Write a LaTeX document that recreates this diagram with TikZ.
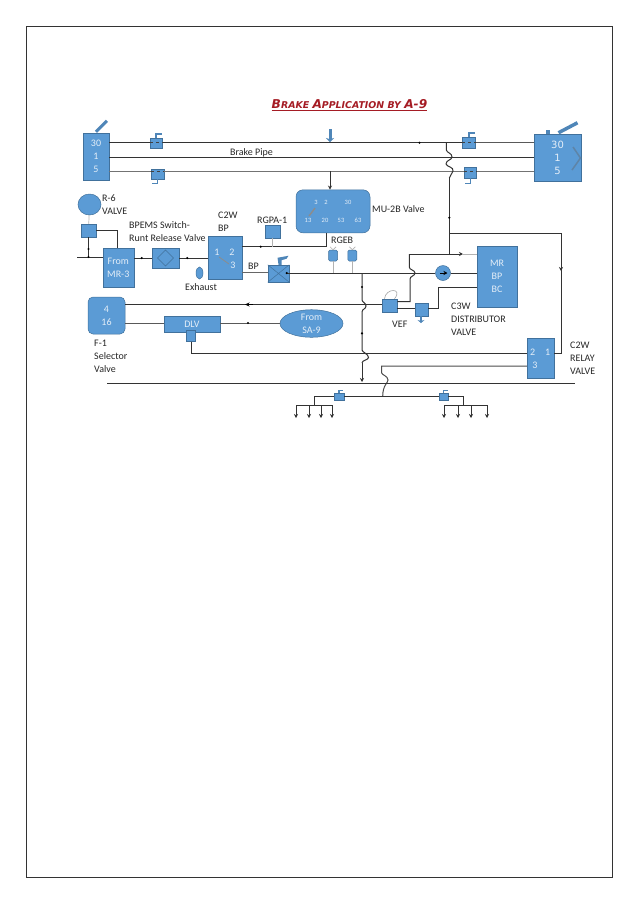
\documentclass[tikz,border=0pt]{standalone}
\usepackage{fontspec}
\setmainfont{Carlito}
\usetikzlibrary{positioning,calc,arrows.meta,shapes.geometric}
\newfontfamily\titlefont{DejaVu Sans}
\definecolor{brakeBlueFill}{HTML}{5B9BD5}
\definecolor{brakeBlueLine}{HTML}{41719C}
\definecolor{brakeHandle}{HTML}{4F86B8}
\definecolor{brakeLine}{HTML}{333333}
\definecolor{brakeRed}{HTML}{A51C24}
\definecolor{brakeText}{HTML}{E4EEF8}
\tikzset{
  valve box/.style={draw=brakeBlueLine, fill=brakeBlueFill, line width=0.5pt,
    inner sep=0pt, font=\fontsize{10}{13}\selectfont, text=brakeText, align=center},
  pipe/.style={line width=1pt, color=brakeLine},
  pipe arrow/.style={pipe, -{Stealth[length=4pt,width=4pt]}},
  stub/.style={line width=0.7pt, color=black!30},
  handle/.style={line width=1.5pt, color=brakeHandle},
  tag/.style={font=\fontsize{10}{13}\selectfont, text=black!85, align=left, inner sep=0pt},
}
\newcommand{\mk}[1]{\fill[black] (#1) circle (1.2pt);}
\begin{document}
\begin{tikzpicture}[x=1pt,y=-1pt]
\useasboundingbox (0,0) rectangle (638,903);
\draw[line width=0.7pt, black!80] (26,26) rectangle (612,877);

% --- TITLE ---
\node[font=\titlefont\bfseries\itshape, text=brakeRed, inner sep=0.5pt] (title) at (349.5,105)
  {\underline{\fontsize{12.2}{14}\selectfont B\fontsize{9.4}{11}\selectfont RAKE \fontsize{12.2}{14}\selectfont A\fontsize{9.4}{11}\selectfont PPLICATION BY \fontsize{12.2}{14}\selectfont A-9}};

% --- BOXES ---
\node[valve box, minimum width=26, minimum height=47] (blockL) at (96,156.5) {30\\1\\5};
\node[valve box, minimum width=47, minimum height=47, font=\titlefont\fontsize{10}{13}\selectfont] (blockR) at (557.5,157.5) {30\\1\\5};
\node[valve box, ellipse, minimum width=23, minimum height=21] (rsix) at (89.5,204.5) {};
\node[valve box, minimum width=15, minimum height=13] (rsixbox) at (88.5,230.5) {};
\node[valve box, minimum width=31, minimum height=39] (frommr) at (118.3,267.5) {From\\MR-3};
\node[valve box, minimum width=27, minimum height=20] (bpems) at (165.5,258) {};
\node[valve box, minimum width=34, minimum height=43] (ctwbp) at (225,257.5) {};
\node[valve box, minimum width=15, minimum height=13] (rgpa) at (272.5,231.5) {};
\node[valve box, rounded corners=7pt, minimum width=74, minimum height=43] (mutwo) at (333,211.3) {};
\node[valve box, rounded corners=1.5pt, minimum width=9, minimum height=11] (rgebl) at (333,255.5) {};
\node[valve box, rounded corners=1.5pt, minimum width=9, minimum height=11] (rgebr) at (352.3,255.5) {};
\node[valve box, minimum width=21, minimum height=17] (bpvalve) at (278.5,273.5) {};
\node[valve box, ellipse, minimum width=7, minimum height=12] (exhaust) at (199.5,273) {};
\node[valve box, rounded corners=5pt, minimum width=37, minimum height=37] (fone) at (106.5,315.5) {4\\16};
\node[valve box, minimum width=56, minimum height=16] (dlv) at (192,324) {DLV};
\node[valve box, minimum width=9, minimum height=11] (dlvtail) at (191,336) {};
\node[valve box, ellipse, minimum width=63, minimum height=27] (sanine) at (311.5,323.5) {From\\SA-9};
\node[valve box, minimum width=15, minimum height=13] (vef) at (389.5,305.5) {};
\node[valve box, minimum width=13, minimum height=13] (vefout) at (421.5,309.5) {};
\node[valve box, circle, minimum size=15] (check) at (443,273) {};
\node[valve box, minimum width=40, minimum height=61] (cthree) at (497,276.5) {MR\\BP\\BC};
\node[valve box, minimum width=27, minimum height=40] (relay) at (540.5,358) {};

% --- SMALL COCKS ---
\foreach \nm/\cx/\cy/\cw/\ch in {cockA/156/143/12/10, cockB/157.5/174/13/10, cockC/469/142.5/13/11, cockD/470.5/172.5/12/11, cockE/339/396.5/10/7, cockF/443.5/396.5/9/7}
  \node[valve box, minimum width=\cw, minimum height=\ch] (\nm) at (\cx,\cy) {};
\draw[handle] (cockA.north) -- ++(0,-4) -- ++(6,0);
\draw[handle] (cockB.south) -- ++(0,4) -- ++(-6,0);
\draw[handle] (cockC.north) -- ++(0,-4) -- ++(6,0);
\draw[handle] (cockD.south) -- ++(0,5) -- ++(-6,0);
\draw[handle, line width=1.1pt] (cockE.north) -- ++(0,-2.5) -- ++(4,0);
\draw[handle, line width=1.1pt] (cockF.north) -- ++(0,-2.5) -- ++(4,0);

% --- HANDLES ---
\draw[brakeHandle, line width=3pt] (blockL.north) ++(0,-1) -- ++(11,-11);
\draw[brakeHandle, line width=3.5pt] (blockR.north) ++(1,-1) -- ++(19,-10);
\draw[brakeHandle, line width=4pt] (blockR.north) ++(-10,0) -- ++(0,-4);
\draw[brakeHandle!70!gray, line width=1.5pt] (573,147) -- (580.5,158) -- (572,170);
\fill[brakeHandle] (bpvalve.north) -- ++(-1,-7) -- ++(11,-2) -- ++(-2,3) -- ++(-5,1.5) -- ++(0,4.5) -- cycle;
\draw[brakeBlueLine, line width=0.5pt] (bpvalve.north west) -- (bpvalve.south east) (bpvalve.north east) -- (bpvalve.south west);
\draw[brakeBlueLine, line width=0.6pt] (bpems.center) ++(-8,0) -- ++(8,-8) -- ++(8,8) -- ++(-8,8) -- cycle;
\draw[black!35, line width=0.6pt] (vef.north) ++(-5,0) .. controls ++(1,-11) and ++(9,-11) .. ++(10,0);

% --- PORT TEXTS ---
\begin{scope}[every node/.style={text=brakeText, inner sep=0pt, font=\fontsize{6.5}{8}\selectfont}]
  \node (mua) at (316,202) {3};
  \node (mub) at (326,202) {2};
  \node (muc) at (348,202) {30};
  \node (mud) at (308,220.7) {13};
  \node (mue) at (325,220.7) {20};
  \node (muf) at (341,220.7) {53};
  \node (mug) at (358,220.7) {63};
\end{scope}
\begin{scope}[every node/.style={text=brakeText, inner sep=0pt, font=\fontsize{10}{13}\selectfont}]
  \node (ctwa) at (217,252) {1};
  \node (ctwb) at (232,252) {2};
  \node (ctwc) at (233,265) {3};
  \node (rela) at (532.7,352) {2};
  \node (relb) at (547.7,352) {1};
  \node (relc) at (535,365) {3};
\end{scope}
\draw[black!45, line width=0.8pt] (219,257) -- (229,264);
\draw[black!45, line width=1.4pt] (309,216) -- (315,208);

% --- BRAKE PIPES ---
\draw[pipe] (blockL.east |- 0,142.7) -- (cockA.west |- 0,142.7);
\draw[pipe] (cockA.east |- 0,142.7) -- (cockC.west |- 0,142.7);
\draw[pipe, black!65] (cockC.east |- 0,142.7) -- (blockR.west |- 0,142.7);
\draw[pipe] (blockL.east |- 0,157) -- (blockR.west |- 0,157);
\draw[pipe, black!55] (blockL.east |- 0,171) -- (cockB.west |- 0,171);
\draw[pipe, black!55] (cockB.east |- 0,171) -- (cockD.west |- 0,171);
\draw[pipe, black!55] (cockD.east |- 0,171) -- (blockR.west |- 0,171);
\foreach \nm/\ly in {cockA/142.7, cockB/171, cockC/142.7, cockD/171}
  \draw[black!75, line width=0.5pt, dashed] (\nm.west |- 0,\ly) -- (\nm.east |- 0,\ly);
\draw[brakeHandle, line width=3pt, -{Stealth[length=4pt,width=8pt]}] (330,129) -- (330,142);
\draw[pipe, line width=1.4pt] (398,142.7) -- (418,142.7);
\mk{419.5,142.7}
\draw[pipe arrow] (330,171) -- (mutwo.north -| 330,0);

% --- MAIN RISER ---
\coordinate (riserT) at (446.3,142.7);
\coordinate (riserM) at (449.3,178);
\draw[pipe] (riserT) -- (446.3,150) .. controls (447,153) and (452,153) .. (452,157)
  .. controls (452,160) and (446,160) .. (446,164)
  .. controls (447,167) and (454,167) .. (453,171) -- (riserM);
\coordinate (riserB) at (449.3,254);
\coordinate (riserS) at (449.3,233);
\draw[pipe] (riserM) -- (riserB);
\mk{449.3,217.7}
\draw[pipe] (riserS) -- (561,233) |- (relay.east |- 0,353);
\draw[pipe arrow] (561,233) -- (561,271);
\draw[pipe] (409.3,254) -- (riserB);
\draw[pipe arrow] (riserB) -- (463,254);
\draw[stub] (463,254) -- (cthree.west |- 0,254);
\draw[pipe] (409.3,254) -- (409.3,267) .. controls (409.3,270) and (415,270) .. (415,273)
  .. controls (415,276) and (410,276) .. (410,279) -- (410,301.7) -- (vef.east |- 0,301.7);

% --- LEFT SIDE LINES ---
\coordinate (feedL) at (77,257);
\draw[pipe] (feedL) -- (frommr.west |- feedL);
\draw[pipe] (rsixbox.south) -- (rsixbox.south |- feedL);
\mk{rsixbox.south |- feedL}
\mk{88.5,249}
\draw[stub] (rsix) -- (rsixbox);
\draw[pipe] (rsixbox.east) -| (frommr.north -| 117.7,0);
\draw[pipe] (frommr.east |- bpems) -- (bpems);
\mk{141.7,258}
\draw[pipe] (bpems) -- (ctwbp.west |- bpems);
\mk{187.3,258}
\draw[pipe] (ctwbp.east |- 0,246.7) -- (326.7,246.7) -- (mutwo.south -| 326.7,0);
\mk{260.7,246.7}
\draw[stub] (rgpa.south) -- (rgpa.south |- 0,246.7);
\draw[pipe, black!60] (ctwbp.east |- 0,272) -- (bpvalve.west |- 0,272);
\draw[stub] (rgebl) -- (rgebl |- 0,273);
\draw[stub] (rgebr) -- (rgebr |- 0,273);
\draw[stub] (rgebl.north) -- ++(-3,-3) (rgebl.north) -- ++(3,-3);
\draw[stub] (rgebr.north) -- ++(-3,-3) (rgebr.north) -- ++(3,-3);
\coordinate (bpdot) at (286.7,273);
\draw[pipe] (check) -- (bpdot);
\mk{bpdot}
\draw[pipe] (check) -- (cthree.west |- check);
\draw[pipe] (cthree.west |- 0,287) -- (438,287) -- (438,308) -- (vefout.east |- 0,308);
\draw[pipe] (vef.east |- 0,308) -- (vefout.west |- 0,308);
\draw[-{Stealth[length=4pt,width=4pt]}, line width=1pt, color=black] (440,273) -- (447.5,273);
\draw[brakeHandle, line width=2.5pt, -{Stealth[length=3pt,width=7pt]}] (vefout.south -| 421,0) -- (421,323);

% --- VERTICAL DOWN LINE ---
\coordinate (downT) at (362,273);
\coordinate (downB) at (362,382);
\draw[pipe] (downT) -- (362,300) .. controls (362,302) and (366,303) .. (366,306)
  .. controls (366,309) and (362,309) .. (362,312) -- (362,350)
  .. controls (362,352) and (368.5,354) .. (368.5,357.5)
  .. controls (368.5,360) and (362,360) .. (362,363);
\draw[pipe arrow] (362,363) -- (downB);
\mk{362,287}
\mk{362,333.3}

% --- LOWER LINES ---
\draw[pipe] (fone.east |- 0,304.5) -- (vef.west |- 0,304.5);
\draw[-{Stealth[length=4.5pt,width=4pt]}, line width=0.7pt, black] (253,304.5) -- (245,304.5);
\draw[pipe, black!65] (fone.east |- 0,323) -- (dlv.west |- 0,323);
\draw[pipe, black!65] (sanine.west |- 0,323) -- (dlv.east |- 0,323);
\mk{248,323}
\draw[pipe] (dlvtail.south) |- (relay.west |- 0,353.3);
\draw[pipe, black!70] (relay.west |- 0,366) -- (381.7,366) -- (381.7,373) .. controls (382,375) and (388,376) .. (388,380)
  .. controls (388,383) and (382.7,385) .. (382.7,396.5);

% --- BUS AND BRANCHES ---
\coordinate (busL) at (107,383);
\coordinate (busR) at (575,383);
\draw[pipe] (busL) -- (busR);
\draw[pipe] (cockE) -- (cockF);
\draw[pipe] (cockE) -- (314,396.5);
\draw[pipe] (cockF) -- (463,396.5) -- (463,405);
\draw[pipe] (314,396.5) -- (314,405);
\draw[pipe] (296,405) -- (332,405);
\draw[pipe] (444,405) -- (487,405);
\foreach \tipx in {296,309,321,332}
  \draw[pipe arrow] (\tipx,405) -- (\tipx,418);
\foreach \tipx in {444,458,471,487}
  \draw[pipe arrow] (\tipx,405) -- (\tipx,418);

% --- LABELS ---
\node[tag, anchor=west] (brakepipe) at (230,152.5) {Brake Pipe};
\node[tag, anchor=west] (rsixlabel) at (102,204.5) {R-6\\VALVE};
\node[tag, anchor=west] (bpemslabel) at (129,231.5) {BPEMS Switch-\\Runt Release Valve};
\node[tag, anchor=west] (ctwlabel) at (218,222) {C2W\\BP};
\node[tag, anchor=west] (rgpalabel) at (257,220) {RGPA-1};
\node[tag, anchor=west] (mulabel) at (372,209) {MU-2B Valve};
\node[tag, anchor=west] (rgeblabel) at (331,240) {RGEB};
\node[tag, anchor=west] (bplabel) at (248,266) {BP};
\node[tag, anchor=west] (exhaustlabel) at (185,287) {Exhaust};
\node[tag, anchor=west] (fonelabel) at (94,356) {F-1\\Selector\\Valve};
\node[tag, anchor=west] (veflabel) at (392,324) {VEF};
\node[tag, anchor=west] (cthreelabel) at (451,319) {C3W\\DISTRIBUTOR\\VALVE};
\node[tag, anchor=west] (relaylabel) at (570,358) {C2W\\RELAY\\VALVE};
\end{tikzpicture}
\end{document}
